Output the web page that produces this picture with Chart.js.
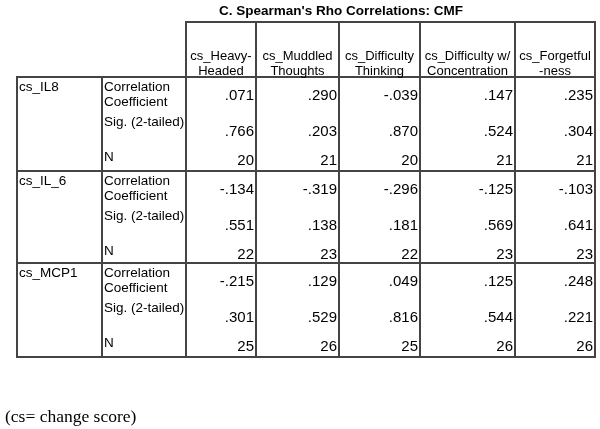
<!DOCTYPE html>
<html>
<head>
<meta charset="utf-8">
<script src="https://cdn.jsdelivr.net/npm/chart.js@4.4.1/dist/chart.umd.min.js"></script>
<style>
  body { margin: 0; background: #fff; }
  canvas { display: block; }
</style>
</head>
<body>
<canvas id="tbl" width="600" height="429"></canvas>
<script>
// table content
const title = "C. Spearman's Rho Correlations: CMF";
const footnote = '(cs= change score)';
const columns = [['cs_Heavy-', 'Headed'], ['cs_Muddled', 'Thoughts'], ['cs_Difficulty', 'Thinking'], ['cs_Difficulty w/', 'Concentration'], ['cs_Forgetful', '-ness']];
const rowVars = ['cs_IL8', 'cs_IL_6', 'cs_MCP1'];
const statLabels = [['Correlation', 'Coefficient'], ['Sig. (2-tailed)'], ['N']];

const rhoIL8 = [0.071, 0.290, -0.039, 0.147, 0.235];
const sigIL8 = [0.766, 0.203, 0.870, 0.524, 0.304];
const nIL8 = [20, 21, 20, 21, 21];

const rhoIL6 = [-0.134, -0.319, -0.296, -0.125, -0.103];
const sigIL6 = [0.551, 0.138, 0.181, 0.569, 0.641];
const nIL6 = [22, 23, 22, 23, 23];

const rhoMCP1 = [-0.215, 0.129, 0.049, 0.125, 0.248];
const sigMCP1 = [0.301, 0.529, 0.816, 0.544, 0.221];
const nMCP1 = [25, 26, 25, 26, 26];

const groups = [[rhoIL8, sigIL8, nIL8], [rhoIL6, sigIL6, nIL6], [rhoMCP1, sigMCP1, nMCP1]];

// layout (scale units = px inside the table box)
const colEdges = [0, 85, 169, 239, 322, 403, 498, 578];
const rowEdges = [0, 55, 149, 241, 335];
const valueOffsets = [19, 55, 84];
const labelOffsets = [[10, 25], [45], [80]];

const headFont = '13px "Liberation Sans", Arial, sans-serif';
const labelFont = '13.5px "Liberation Sans", Arial, sans-serif';
const valueFont = '15px "Liberation Sans", Arial, sans-serif';
const lineColor = '#444';

// SPSS style: no leading zero
function fmt(v, s) {
  if (s === 2) return String(v);
  return v.toFixed(3).replace('0.', '.');
}

const datasets = [];
groups.forEach((g, gi) => {
  g.forEach((vals, si) => {
    datasets.push({
      label: rowVars[gi] + ' ' + statLabels[si].join(' '),
      stat: si,
      data: vals.map((v, ci) => ({ x: colEdges[ci + 3] - 2, y: rowEdges[gi + 1] + valueOffsets[si], v: v })),
      pointRadius: 0,
      showLine: false
    });
  });
});

const tablePlugin = {
  id: 'spssTable',
  afterDatasetsDraw(chart) {
    const { ctx, scales: { x, y } } = chart;
    ctx.save();

    // borders
    ctx.strokeStyle = lineColor;
    ctx.lineWidth = 2;
    const hline = (a, b, yy) => {
      ctx.beginPath();
      ctx.moveTo(x.getPixelForValue(a) - 1, y.getPixelForValue(yy));
      ctx.lineTo(x.getPixelForValue(b) + 1, y.getPixelForValue(yy));
      ctx.stroke();
    };
    const vline = (xx, a, b) => {
      ctx.beginPath();
      ctx.moveTo(x.getPixelForValue(xx), y.getPixelForValue(a) - 1);
      ctx.lineTo(x.getPixelForValue(xx), y.getPixelForValue(b) + 1);
      ctx.stroke();
    };
    hline(colEdges[2], colEdges[7], rowEdges[0]);
    for (let i = 1; i < rowEdges.length; i++) hline(colEdges[0], colEdges[7], rowEdges[i]);
    vline(colEdges[0], rowEdges[1], rowEdges[4]);
    vline(colEdges[1], rowEdges[1], rowEdges[4]);
    for (let i = 2; i < colEdges.length; i++) vline(colEdges[i], rowEdges[0], rowEdges[4]);

    ctx.fillStyle = '#000';
    ctx.textBaseline = 'middle';

    // column headers
    ctx.font = headFont;
    ctx.textAlign = 'center';
    columns.forEach((lines, ci) => {
      const cx = (x.getPixelForValue(colEdges[ci + 2]) + x.getPixelForValue(colEdges[ci + 3])) / 2;
      const bottom = y.getPixelForValue(rowEdges[1]);
      ctx.fillText(lines[0], cx, bottom - 21);
      ctx.fillText(lines[1], cx, bottom - 6);
    });

    // stub labels
    ctx.font = labelFont;
    ctx.textAlign = 'left';
    rowVars.forEach((name, gi) => {
      const top = rowEdges[gi + 1];
      ctx.fillText(name, x.getPixelForValue(colEdges[0]) + 2, y.getPixelForValue(top + 10));
      statLabels.forEach((lines, si) => {
        lines.forEach((t, li) => {
          ctx.fillText(t, x.getPixelForValue(colEdges[1]) + 2, y.getPixelForValue(top + labelOffsets[si][li]));
        });
      });
    });

    // cell values at their points
    ctx.font = valueFont;
    ctx.textAlign = 'right';
    chart.data.datasets.forEach((ds, di) => {
      chart.getDatasetMeta(di).data.forEach((pt, i) => {
        ctx.fillText(fmt(ds.data[i].v, ds.stat), pt.x, pt.y);
      });
    });

    // title and footnote
    ctx.textAlign = 'center';
    ctx.font = 'bold 13.5px "Liberation Sans", Arial, sans-serif';
    ctx.fillText(title, x.getPixelForValue(324), y.getPixelForValue(0) - 11);
    ctx.textAlign = 'left';
    ctx.font = '17.5px "Liberation Serif", "Times New Roman", serif';
    ctx.fillText(footnote, 5, y.getPixelForValue(rowEdges[4]) + 60);

    ctx.restore();
  }
};

new Chart(document.getElementById('tbl'), {
  type: 'scatter',
  data: { datasets: datasets },
  options: {
    responsive: false,
    animation: false,
    layout: { padding: { left: 17, right: 5, top: 22, bottom: 72 } },
    plugins: { legend: { display: false }, tooltip: { enabled: false }, title: { display: false } },
    scales: {
      x: { type: 'linear', min: 0, max: 578, display: false },
      y: { type: 'linear', min: 0, max: 335, reverse: true, display: false }
    }
  },
  plugins: [tablePlugin]
});
</script>
</body>
</html>
